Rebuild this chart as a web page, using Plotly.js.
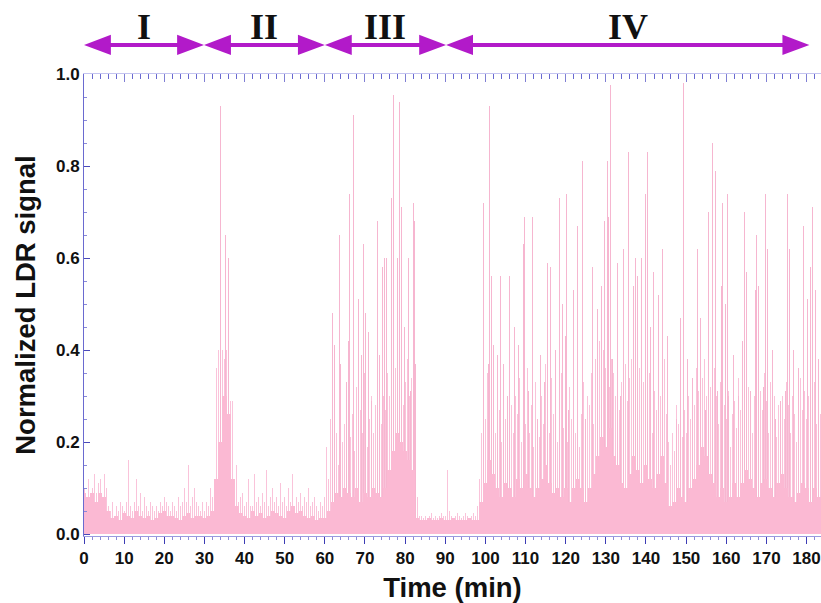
<!DOCTYPE html>
<html>
<head>
<meta charset="utf-8">
<script src="https://cdn.plot.ly/plotly-3.0.1.min.js"></script>
<style>html,body{margin:0;padding:0;background:#fff;}#chart{width:821px;height:603px;}</style>
</head>
<body>
<div id="chart"></div>
<script>
// ---- Data ----
// Solid low-level envelope, one value per minute (0..183 min)
const envelopeStep = 1;
const envelopeValue = [
  0.09,0.08,0.09,0.07,0.09,0.08,0.05,0.035,0.04,0.03,
  0.045,0.04,0.035,0.05,0.04,0.035,0.04,0.03,0.035,0.045,
  0.05,0.04,0.04,0.035,0.03,0.04,0.045,0.035,0.04,0.04,
  0.035,0.04,0.05,0.12,0.2,0.3,0.26,0.12,0.06,0.045,
  0.04,0.035,0.05,0.04,0.045,0.035,0.04,0.05,0.045,0.04,
  0.035,0.05,0.06,0.045,0.05,0.04,0.035,0.04,0.03,0.035,
  0.035,0.05,0.07,0.09,0.08,0.1,0.09,0.08,0.1,0.07,
  0.09,0.08,0.1,0.09,0.08,0.1,0.14,0.18,0.22,0.2,
  0.18,0.16,0.14,0.035,0.03,0.03,0.035,0.03,0.03,0.035,
  0.03,0.03,0.035,0.03,0.03,0.03,0.035,0.03,0.03,0.07,
  0.11,0.16,0.13,0.1,0.08,0.11,0.1,0.08,0.12,0.1,
  0.13,0.1,0.08,0.1,0.12,0.15,0.11,0.09,0.1,0.08,
  0.1,0.07,0.1,0.12,0.1,0.07,0.1,0.13,0.17,0.21,
  0.19,0.23,0.17,0.15,0.11,0.1,0.13,0.17,0.14,0.11,
  0.15,0.12,0.1,0.13,0.17,0.11,0.06,0.07,0.1,0.08,
  0.07,0.1,0.12,0.15,0.19,0.17,0.13,0.11,0.08,0.1,
  0.07,0.08,0.11,0.08,0.11,0.14,0.12,0.1,0.08,0.11,
  0.12,0.1,0.08,0.11,0.13,0.1,0.08,0.07,0.09,0.11,
  0.1,0.07,0.1,0.08
];

// Fine signal samples, one every 0.5 min (0..183.5 min)
const sampleStep = 0.5;
const sampleValue = [
  0.1,0.08,0.12,0.09,0.1,0.13,0.09,0.11,0.12,0.08,0.13,0.1,
  0.06,0.05,0.07,0.04,0.06,0.05,0.07,0.06,0.05,0.07,0.16,0.06,
  0.05,0.07,0.12,0.06,0.09,0.05,0.08,0.06,0.05,0.07,0.06,0.05,
  0.06,0.05,0.07,0.06,0.08,0.07,0.06,0.05,0.07,0.06,0.05,0.08,
  0.06,0.07,0.1,0.07,0.15,0.06,0.08,0.1,0.07,0.06,0.05,0.07,
  0.05,0.07,0.06,0.1,0.08,0.12,0.36,0.4,0.3,0.4,0.38,0.4,
  0.35,0.29,0.29,0.1,0.15,0.07,0.08,0.09,0.06,0.07,0.12,0.06,
  0.06,0.13,0.07,0.08,0.06,0.09,0.07,0.14,0.06,0.08,0.1,0.07,
  0.08,0.06,0.11,0.07,0.08,0.06,0.1,0.07,0.13,0.06,0.08,0.07,
  0.09,0.06,0.08,0.07,0.1,0.06,0.07,0.08,0.06,0.05,0.07,0.06,
  0.08,0.19,0.12,0.25,0.18,0.3,0.22,0.15,0.28,0.2,0.24,0.17,
  0.3,0.21,0.26,0.18,0.32,0.2,0.27,0.22,0.35,0.19,0.25,0.3,
  0.22,0.28,0.2,0.33,0.24,0.3,0.27,0.35,0.3,0.38,0.32,0.36,
  0.4,0.3,0.35,0.28,0.33,0.38,0.3,0.34,0.36,0.3,0.08,0.04,
  0.04,0.035,0.04,0.035,0.04,0.045,0.035,0.04,0.035,0.04,0.045,0.04,
  0.04,0.14,0.05,0.04,0.035,0.04,0.045,0.04,0.035,0.04,0.045,0.04,
  0.035,0.04,0.045,0.04,0.06,0.12,0.22,0.3,0.25,0.35,0.28,0.33,
  0.3,0.22,0.35,0.27,0.2,0.31,0.25,0.18,0.32,0.28,0.22,0.3,
  0.26,0.34,0.2,0.3,0.24,0.36,0.22,0.28,0.19,0.33,0.25,0.21,
  0.3,0.24,0.37,0.28,0.22,0.34,0.26,0.31,0.2,0.29,0.35,0.23,
  0.27,0.2,0.32,0.25,0.36,0.22,0.29,0.19,0.26,0.33,0.21,0.3,
  0.28,0.35,0.24,0.38,0.3,0.42,0.34,0.4,0.36,0.45,0.32,0.38,
  0.35,0.3,0.4,0.27,0.33,0.25,0.37,0.29,0.34,0.38,0.26,0.32,
  0.3,0.36,0.24,0.33,0.4,0.28,0.35,0.22,0.31,0.27,0.36,0.3,
  0.34,0.38,0.26,0.2,0.15,0.22,0.18,0.28,0.24,0.3,0.21,0.27,
  0.22,0.3,0.25,0.33,0.28,0.36,0.31,0.4,0.34,0.38,0.3,0.35,
  0.32,0.27,0.36,0.3,0.24,0.33,0.21,0.28,0.25,0.31,0.19,0.26,
  0.29,0.23,0.34,0.27,0.31,0.36,0.25,0.32,0.28,0.22,0.3,0.26,
  0.24,0.31,0.27,0.35,0.29,0.22,0.33,0.26,0.3,0.21,0.28,0.24,
  0.3,0.25,0.33,0.28,0.22,0.3,0.26,0.2,0.29,0.34,0.27,0.31,
  0.25,0.3,0.22,0.28,0.33,0.24,0.3,0.26
];

// Individual tall spikes (time in min, normalized value)
const spikeTime = [
  33.9,35.3,36.1,
  61.8,62.3,63.6,63.8,65.3,65.8,66.1,67.1,68.3,69.1,69.6,70.1,70.8,71.7,73.0,73.5,74.3,74.8,75.3,76.5,76.7,77.1,78.0,78.5,79.0,79.8,80.8,81.3,82.0,82.3,82.7,
  99.5,100.7,101.0,101.5,101.9,102.9,103.7,104.5,105.5,106.0,107.2,108.2,109.4,109.8,110.7,111.7,112.9,113.7,114.7,115.4,116.2,117.4,118.4,119.2,119.9,120.2,120.7,
  121.9,122.9,124.1,124.9,126.6,127.8,128.8,129.6,130.3,130.7,131.1,131.6,132.8,133.6,134.4,135.6,136.8,137.3,137.8,139.0,139.9,140.4,141.1,141.9,143.1,144.2,145.4,
  147.6,148.6,149.3,150.3,151.6,152.8,153.6,154.8,155.6,156.6,157.3,157.8,158.8,159.0,159.8,160.3,160.6,161.8,163.1,164.1,164.5,165.1,166.1,167.3,167.5,168.0,
  169.3,169.8,170.3,171.5,172.3,173.5,174.8,175.3,175.8,176.8,178.0,179.3,180.2,181.0,181.5,182.3,183.0
];
const spikeValue = [
  0.93,0.65,0.6,
  0.48,0.41,0.65,0.37,0.33,0.42,0.74,0.91,0.51,0.39,0.63,0.48,0.44,0.29,0.68,0.39,0.58,0.6,0.6,0.43,0.73,0.955,0.6,0.94,0.71,0.45,0.6,0.31,0.72,0.68,0.37,
  0.72,0.37,0.93,0.56,0.41,0.39,0.56,0.37,0.3,0.56,0.45,0.41,0.63,0.69,0.31,0.69,0.25,0.39,0.33,0.59,0.58,0.4,0.73,0.5,0.43,0.74,0.27,
  0.53,0.67,0.81,0.25,0.58,0.49,0.54,0.68,0.81,0.69,0.976,0.38,0.59,0.3,0.62,0.83,0.54,0.6,0.56,0.6,0.74,0.83,0.45,0.57,0.52,0.62,0.43,
  0.25,0.47,0.98,0.38,0.34,0.62,0.47,0.27,0.7,0.85,0.79,0.31,0.54,0.72,0.5,0.74,0.3,0.39,0.3,0.42,0.7,0.57,0.31,0.53,0.65,0.54,
  0.32,0.74,0.62,0.4,0.25,0.29,0.31,0.74,0.62,0.4,0.36,0.67,0.51,0.58,0.71,0.53,0.38
];

// Experimental phases shown by arrows above the plot
const phaseLabel = ['I','II','III','IV'];
const phaseStart = [0, 29.9, 60, 90.2];
const phaseEnd   = [29.9, 60, 90.2, 180.7];

const xTicks = [0,10,20,30,40,50,60,70,80,90,100,110,120,130,140,150,160,170,180];
const yTicks = [0,0.2,0.4,0.6,0.8,1.0];
const yTickText = ['0.0','0.2','0.4','0.6','0.8','1.0'];

// ---- Build chart ----
const envelopeTime = envelopeValue.map((_, i) => i * envelopeStep);
const sampleTime = sampleValue.map((_, i) => i * sampleStep);

const traces = [
  {type:'bar', x: sampleTime, y: sampleValue, width: 0.25,
   marker:{color:'#fac3da', line:{width:0}}, hoverinfo:'skip'},
  {type:'bar', x: spikeTime, y: spikeValue, width: 0.25,
   marker:{color:'#f6b6d0', line:{width:0}}, hoverinfo:'skip'},
  {type:'bar', x: envelopeTime, y: envelopeValue, width: envelopeStep,
   marker:{color:'#fbb9d3', line:{width:0}}, hoverinfo:'skip'},
  {type:'scatter', x: [], y: [], xaxis:'x2', hoverinfo:'skip'}
];

const arrowColor = '#b21ac9';
const arrowY = 1.063, headLen = 6.7, headHalf = 0.022;
const shapes = [];
const annotations = [];
phaseLabel.forEach((lab, i) => {
  const a = phaseStart[i], b = phaseEnd[i];
  shapes.push({type:'line', xref:'x', yref:'paper', x0:a+headLen*0.9, x1:b-headLen*0.9, y0:arrowY, y1:arrowY,
               line:{color:arrowColor, width:4}});
  shapes.push({type:'path', xref:'x', yref:'paper', fillcolor:arrowColor, line:{width:0},
               path:`M ${a},${arrowY} L ${a+headLen},${arrowY+headHalf} L ${a+headLen},${arrowY-headHalf} Z`});
  shapes.push({type:'path', xref:'x', yref:'paper', fillcolor:arrowColor, line:{width:0},
               path:`M ${b},${arrowY} L ${b-headLen},${arrowY+headHalf} L ${b-headLen},${arrowY-headHalf} Z`});
  annotations.push({text: lab, x:(a+b)/2, xref:'x', y:1.102, yref:'paper', showarrow:false,
                    font:{family:'Liberation Serif, Times New Roman, serif', size:36, color:'#111', weight:'bold'},
                    xanchor:'center', yanchor:'middle'});
});

const tickFont = {family:'Liberation Sans, Arial, sans-serif', size:17, color:'#111', weight:'bold'};
const titleFont = {family:'Liberation Sans, Arial, sans-serif', size:27.5, color:'#111', weight:'bold'};
const layout = {
  width: 821, height: 603,
  margin: {l:84, r:0, t:74, b:67},
  paper_bgcolor:'#fff', plot_bgcolor:'#fff',
  showlegend:false, barmode:'overlay', bargap:0,
  xaxis: {range:[0,183.6], tickvals:xTicks, ticks:'outside', ticklen:7, tickwidth:1, tickcolor:'#3c3cb4',
          showline:true, linecolor:'#9a9ae0', linewidth:1, showgrid:false, zeroline:false,
          minor:{dtick:2, ticks:'outside', ticklen:3, tickcolor:'#8a8ad8', showgrid:false},
          tickfont:tickFont,
          title:{text:'Time (min)', standoff:10, font:titleFont}},
  xaxis2: {overlaying:'x', side:'top', anchor:'y', range:[0,183.6], dtick:10, ticks:'inside', ticklen:8,
           tickcolor:'#8080d4', showticklabels:false, showline:true, linecolor:'#c4c4f0', showgrid:false, zeroline:false,
           minor:{dtick:2, ticks:'inside', ticklen:5, tickcolor:'#6a6ad0', showgrid:false}},
  yaxis: {range:[-0.0043,1.0], tickvals:yTicks, ticktext:yTickText, ticks:'inside', ticklen:6, tickcolor:'#4a4ab8',
          showline:true, linecolor:'#6a6ad0', linewidth:1, showgrid:false, zeroline:false,
          minor:{dtick:0.05, ticks:'inside', ticklen:3, tickcolor:'#8a8ad8', showgrid:false},
          tickfont:tickFont,
          title:{text:'Normalized LDR signal', standoff:12, font:titleFont}},
  shapes: shapes,
  annotations: annotations
};

Plotly.newPlot('chart', traces, layout, {staticPlot:true, displayModeBar:false});
</script>
</body>
</html>
